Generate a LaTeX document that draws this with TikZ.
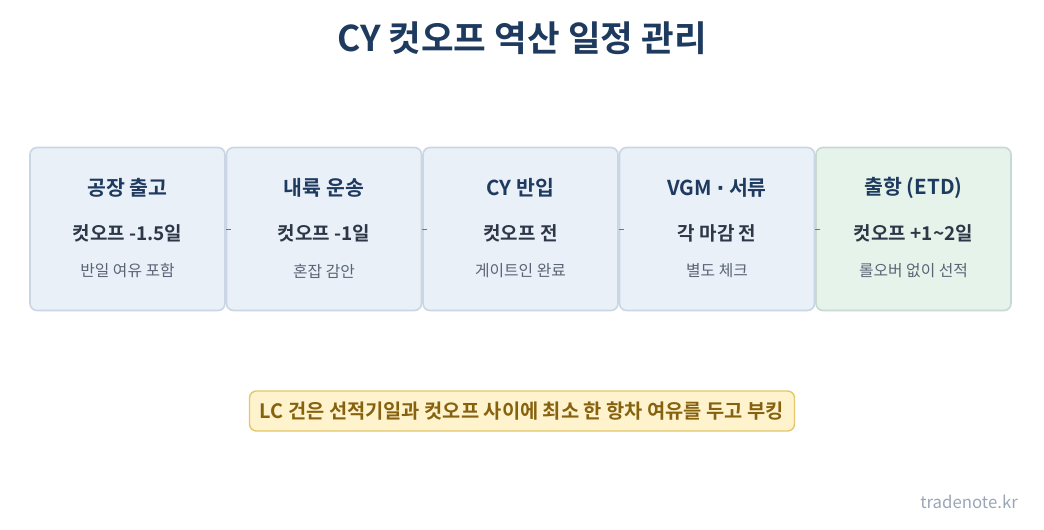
\documentclass[tikz,border=0pt]{standalone}
\usepackage{fontspec}
\setmainfont{Noto Sans CJK KR}[BoldFont={Noto Sans CJK KR Bold}]
\newfontfamily\latinfont{DejaVu Sans}
\usetikzlibrary{positioning}
\definecolor{navy}{HTML}{1F3A5F}
\definecolor{dark}{HTML}{2D3748}
\definecolor{grey}{HTML}{5A6475}
\definecolor{boxfill}{HTML}{E9F0F8}
\definecolor{boxline}{HTML}{CAD6E4}
\definecolor{gfill}{HTML}{E6F3EA}
\definecolor{gline}{HTML}{C8D8D2}
\definecolor{nfill}{HTML}{FFF3CD}
\definecolor{nline}{HTML}{E3C76A}
\definecolor{ntext}{HTML}{86620F}
\definecolor{foot}{HTML}{9AA6B6}
\definecolor{conn}{HTML}{5B7BA3}
\tikzset{
  stage/.style={draw=boxline, fill=boxfill, line width=1.6pt, rounded corners=7pt,
    minimum width=195pt, minimum height=163pt, inner sep=0pt},
  stagegreen/.style={stage, draw=gline, fill=gfill},
  ttl/.style={font=\bfseries\fontsize{20.5}{24}\selectfont, text=navy},
  sub/.style={font=\bfseries\fontsize{19}{23}\selectfont, text=dark},
  small/.style={font=\fontsize{15.8}{19}\selectfont, text=grey},
  connline/.style={draw=conn, line width=1pt, shorten <=-5pt},
}
\begin{document}
\begin{tikzpicture}[x=1pt,y=-1pt]
\useasboundingbox (0,0) rectangle (1044,530);
\node[font=\bfseries\fontsize{35.5}{40}\selectfont, text=navy] (title) at (522,38) {CY 컷오프 역산 일정 관리};

\node[stage] (b1) at (127.5,229) {};
\node[stage] (b2) at (324,229) {};
\node[stage] (b3) at (520.5,229) {};
\node[stage] (b4) at (717,229) {};
\node[stagegreen] (b5) at (913.5,229) {};

\draw[connline] (b1.east) -- (b2.west);
\draw[connline] (b2.east) -- (b3.west);
\draw[connline] (b3.east) -- (b4.west);
\draw[connline] (b4.east) -- (b5.west);

\node[ttl] (t1) at (127.5,188) {공장 출고};
\node[sub] (s1) at (127.5,233) {컷오프 -1.5일};
\node[small] (m1) at (127.5,271) {반일 여유 포함};

\node[ttl] (t2) at (324,188) {내륙 운송};
\node[sub] (s2) at (324,233) {컷오프 -1일};
\node[small] (m2) at (324,271) {혼잡 감안};

\node[ttl] (t3) at (520.5,188) {CY 반입};
\node[sub] (s3) at (520.5,233) {컷오프 전};
\node[small] (m3) at (520.5,271) {게이트인 완료};

\node[ttl] (t4) at (717,188) {VGM {\latinfont\bfseries ·} 서류};
\node[sub] (s4) at (717,233) {각 마감 전};
\node[small] (m4) at (717,271) {별도 체크};

\node[ttl] (t5) at (913.5,188) {출항 (ETD)};
\node[sub] (s5) at (913.5,233) {컷오프 +1\textasciitilde 2일};
\node[small] (m5) at (913.5,271) {롤오버 없이 선적};

\node[draw=nline, fill=nfill, line width=1.4pt, rounded corners=7pt,
  minimum width=545pt, minimum height=40pt, inner sep=0pt,
  font=\bfseries\fontsize{19.8}{23}\selectfont, text=ntext] (note) at (522,411)
  {LC 건은 선적기일과 컷오프 사이에 최소 한 항차 여유를 두고 부킹};

\node[anchor=east, inner sep=0pt, font=\fontsize{16.8}{20}\selectfont, text=foot] (foot) at (1018,502) {tradenote.kr};
\end{tikzpicture}
\end{document}
